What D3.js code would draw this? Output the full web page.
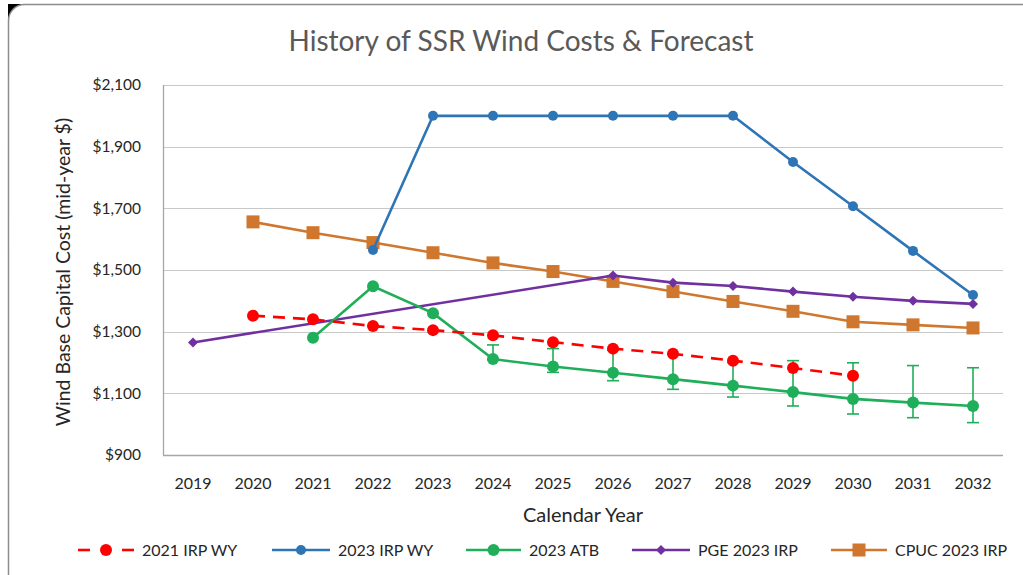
<!DOCTYPE html>
<html>
<head>
<meta charset="utf-8">
<script src="https://cdn.jsdelivr.net/npm/d3@7"></script>
<style>
  body { margin: 0; background: #fff; }
  svg { display: block; }
  text { font-family: Lato, "Open Sans", sans-serif; }
</style>
</head>
<body>
<div id="chart"></div>
<script>
const years = [2019, 2020, 2021, 2022, 2023, 2024, 2025, 2026, 2027, 2028, 2029, 2030, 2031, 2032];
const yTicks = [900, 1100, 1300, 1500, 1700, 1900, 2100];

// null = no point for that year
const irp2021 = [null, 1352, 1340, 1318, 1305, 1288, 1266, 1245, 1228, 1206, 1182, 1157, null, null];
const irp2023 = [null, null, null, 1565, 2000, 2000, 2000, 2000, 2000, 2000, 1850, 1707, 1562, 1419];
const atb2023 = [null, null, 1280, 1447, 1360, 1211, 1187, 1167, 1146, 1125, 1104, 1082, 1070, 1059];
const atbHigh = [null, null, null, null, null, 1257, 1245, 1240, 1227, 1200, 1206, 1199, 1190, 1183];
const atbLow = [null, null, null, null, null, 1209, 1168, 1141, 1113, 1088, 1059, 1033, 1021, 1005];
const pge2023 = [1265, null, null, null, null, null, null, 1482, 1459, 1448, 1430, 1413, 1400, 1390];
const cpuc2023 = [null, 1656, 1621, 1589, 1556, 1523, 1495, 1463, 1430, 1398, 1366, 1332, 1322, 1312];

const W = 1023, H = 575;

const svg = d3.select("#chart").append("svg").attr("width", W).attr("height", H);

// frame
svg.append("rect").attr("x", 8).attr("y", 4).attr("width", 14).attr("height", 14).attr("fill", "#000");
svg.append("rect").attr("x", 8).attr("y", H - 16).attr("width", 12).attr("height", 14).attr("fill", "#000");
svg.append("rect")
  .attr("x", 8.5).attr("y", 4.5)
  .attr("width", W + 20).attr("height", H + 20)
  .attr("rx", 16)
  .attr("fill", "#fff")
  .attr("stroke", "#8c8c8c")
  .attr("stroke-width", 1.5);

const x = d3.scaleBand().domain(years).range([163, 1003]);
const y = d3.scaleLinear().domain([900, 2100]).range([455, 85]);
const cx = (i) => x(years[i]) + x.bandwidth() / 2;

// gridlines
svg.append("g")
  .selectAll("line")
  .data(yTicks.slice(1))
  .join("line")
  .attr("x1", 163).attr("x2", 1003)
  .attr("y1", (d) => Math.round(y(d)) + 0.5).attr("y2", (d) => Math.round(y(d)) + 0.5)
  .attr("stroke", "#c8c8c8")
  .attr("stroke-width", 1.2);

// axes lines
svg.append("line").attr("x1", 163.5).attr("x2", 163.5).attr("y1", 85).attr("y2", 455.5)
  .attr("stroke", "#a6a6a6").attr("stroke-width", 1.3);
svg.append("line").attr("x1", 163).attr("x2", 1003).attr("y1", 455.5).attr("y2", 455.5)
  .attr("stroke", "#a6a6a6").attr("stroke-width", 1.3);

// y tick labels
svg.append("g")
  .selectAll("text")
  .data(yTicks)
  .join("text")
  .attr("x", 141)
  .attr("y", (d) => y(d))
  .attr("dy", "0.35em")
  .attr("text-anchor", "end")
  .attr("fill", "#262626")
  .style("font-size", "15.5px")
  .text((d) => "$" + d3.format(",")(d));

// x tick labels
svg.append("g")
  .selectAll("text")
  .data(years)
  .join("text")
  .attr("x", (d, i) => cx(i))
  .attr("y", 483)
  .attr("dy", "0.35em")
  .attr("text-anchor", "middle")
  .attr("fill", "#262626")
  .style("font-size", "16px")
  .text((d) => d);

// title and axis titles
svg.append("text")
  .attr("x", 521).attr("y", 41)
  .attr("dy", "0.35em")
  .attr("text-anchor", "middle")
  .attr("fill", "#595959")
  .style("font-size", "28px")
  .text("History of SSR Wind Costs & Forecast");

svg.append("text")
  .attr("x", 583).attr("y", 515)
  .attr("dy", "0.35em")
  .attr("text-anchor", "middle")
  .attr("fill", "#262626")
  .style("font-size", "20px")
  .text("Calendar Year");

svg.append("text")
  .attr("transform", "translate(63,272) rotate(-90)")
  .attr("dy", "0.35em")
  .attr("text-anchor", "middle")
  .attr("fill", "#262626")
  .style("font-size", "19.5px")
  .text("Wind Base Capital Cost (mid-year $)");

const series = [
  { name: "2021 IRP WY", values: irp2021, color: "#ff0000", dash: "12,8", marker: "circle", size: 6 },
  { name: "2023 IRP WY", values: irp2023, color: "#2e75b6", dash: null, marker: "circle", size: 5 },
  { name: "2023 ATB", values: atb2023, color: "#1fae59", dash: null, marker: "circle", size: 6 },
  { name: "PGE 2023 IRP", values: pge2023, color: "#7030a0", dash: null, marker: "diamond", size: 5 },
  { name: "CPUC 2023 IRP", values: cpuc2023, color: "#cf772e", dash: null, marker: "square", size: 6.5 },
];

function drawMarker(g, s, px, py) {
  if (s.marker === "circle") {
    g.append("circle").attr("cx", px).attr("cy", py).attr("r", s.size).attr("fill", s.color);
  } else if (s.marker === "square") {
    g.append("rect").attr("x", px - s.size).attr("y", py - s.size)
      .attr("width", s.size * 2).attr("height", s.size * 2).attr("fill", s.color);
  } else {
    const r = s.size;
    g.append("path").attr("d", `M${px},${py - r}L${px + r},${py}L${px},${py + r}L${px - r},${py}Z`)
      .attr("fill", s.color);
  }
}

// error bars for ATB
const eb = svg.append("g");
atbHigh.forEach((hi, i) => {
  if (hi == null) return;
  const lo = atbLow[i];
  const px = cx(i);
  eb.append("line").attr("x1", px).attr("x2", px).attr("y1", y(hi)).attr("y2", y(lo))
    .attr("stroke", "#1fae59").attr("stroke-width", 1.6);
  [hi, lo].forEach((v) => {
    eb.append("line").attr("x1", px - 6).attr("x2", px + 6).attr("y1", y(v)).attr("y2", y(v))
      .attr("stroke", "#1fae59").attr("stroke-width", 1.6);
  });
});

// draw series in order so that later ones sit on top
const drawOrder = [series[4], series[3], series[2], series[1], series[0]];
drawOrder.forEach((s) => {
  const pts = s.values.map((v, i) => (v == null ? null : [cx(i), y(v)])).filter((p) => p);
  const g = svg.append("g");
  g.append("path")
    .attr("d", d3.line()(pts))
    .attr("fill", "none")
    .attr("stroke", s.color)
    .attr("stroke-width", 2.6)
    .attr("stroke-dasharray", s.dash);
  pts.forEach((p) => drawMarker(g, s, p[0], p[1]));
});

// legend
const legendX = [78, 272, 466, 632, 831];
const legendLen = [56, 58, 55, 58, 56];
series.forEach((s, i) => {
  const g = svg.append("g");
  const x0 = legendX[i], x1 = legendX[i] + legendLen[i];
  const ly = 550;
  if (s.dash) {
    g.append("line").attr("x1", x0).attr("x2", x0 + 12).attr("y1", ly).attr("y2", ly)
      .attr("stroke", s.color).attr("stroke-width", 2.6);
    g.append("line").attr("x1", x1 - 12).attr("x2", x1).attr("y1", ly).attr("y2", ly)
      .attr("stroke", s.color).attr("stroke-width", 2.6);
  } else {
    g.append("line").attr("x1", x0).attr("x2", x1).attr("y1", ly).attr("y2", ly)
      .attr("stroke", s.color).attr("stroke-width", 2.6);
  }
  drawMarker(g, s, (x0 + x1) / 2, ly);
  g.append("text")
    .attr("x", x1 + 8).attr("y", ly)
    .attr("dy", "0.35em")
    .attr("fill", "#262626")
    .style("font-size", "16px")
    .text(s.name);
});
</script>
</body>
</html>
